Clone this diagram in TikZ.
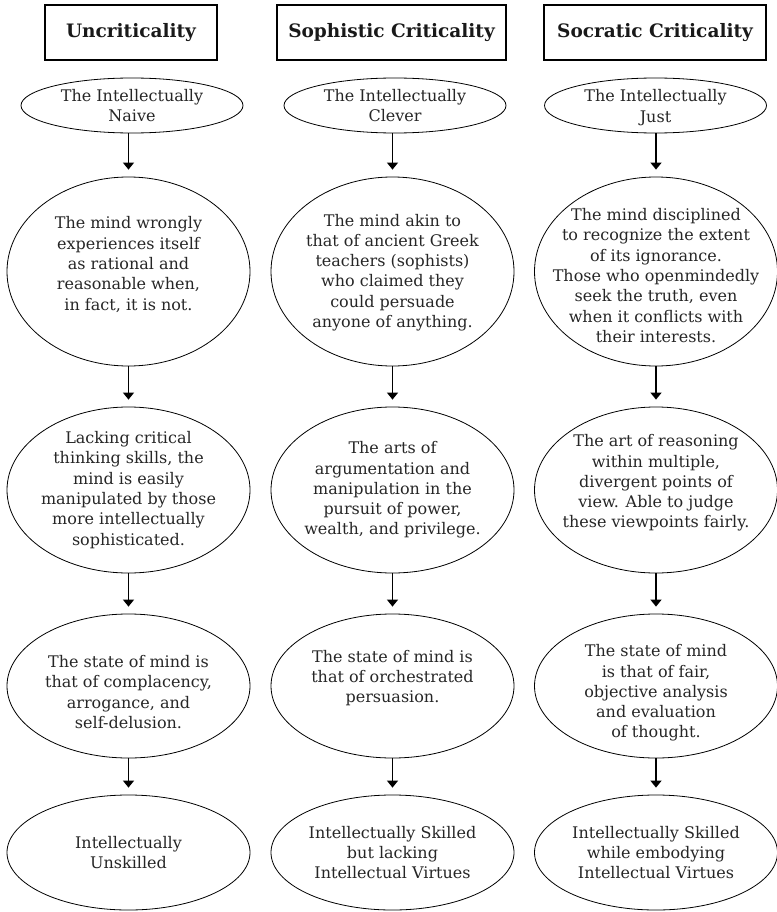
\documentclass[tikz,border=0pt]{standalone}
\usepackage{fontspec}
\setmainfont{DejaVu Serif}
\usetikzlibrary{shapes.geometric,arrows.meta}
\begin{document}
\begin{tikzpicture}[x=1pt,y=-1pt,
  hdr/.style={draw,line width=1.3pt,minimum height=55pt,inner sep=0pt,font=\bfseries\fontsize{18.5}{22}\selectfont,text=black!90},
  ell/.style={draw,ellipse,line width=0.8pt,inner sep=0pt},
  small/.style={ell,minimum width=222pt,minimum height=55pt},
  big/.style={ell,minimum width=243pt},
  txt/.style={align=center,inner sep=0pt,font=\fontsize{16}{20.3}\selectfont,text=black!85},
  flow/.style={-{Triangle[width=11pt,length=7pt]},line width=1.4pt,shorten >=7pt}]
\useasboundingbox (0,0) rectangle (776,912);
% headers
\node[hdr,minimum width=172pt] (h1) at (131,32.5) {Uncriticality};
\node[hdr,minimum width=229pt] (h2) at (391.5,32.5) {Sophistic Criticality};
\node[hdr,minimum width=222pt] (h3) at (655,32.5) {Socratic Criticality};
% row 1
\node[small] (e11) at (132,105.5) {};
\node[small] (e21) at (395,105.5) {};
\node[small] (e31) at (655.5,105.5) {};
\node[txt] (t11) at (e11) {The Intellectually\\Naive};
\node[txt] (t21) at (e21) {The Intellectually\\Clever};
\node[txt] (t31) at ([yshift=-2pt]e31) {The Intellectually\\Just};
% row 2
\node[big,minimum height=189pt] (e12) at (128.5,271.5) {};
\node[big,minimum height=189pt] (e22) at (392.5,271.5) {};
\node[big,minimum height=189pt] (e32) at (656,271.5) {};
\node[txt] (t12) at ([yshift=7pt]e12) {The mind wrongly\\experiences itself\\as rational and\\reasonable when,\\in fact, it is not.};
\node[txt] (t22) at ([yshift=-1pt]e22) {The mind akin to\\that of ancient Greek\\teachers (sophists)\\who claimed they\\could persuade\\anyone of anything.};
\node[txt] (t32) at ([yshift=-4pt]e32) {The mind disciplined\\to recognize the extent\\of its ignorance.\\Those who openmindedly\\seek the truth, even\\when it conflicts with\\their interests.};
% row 3
\node[big,minimum height=166pt] (e13) at (128.5,490) {};
\node[big,minimum height=166pt] (e23) at (392.5,490) {};
\node[big,minimum height=166pt] (e33) at (656,490) {};
\node[txt] (t13) at (e13) {Lacking critical\\thinking skills, the\\mind is easily\\manipulated by those\\more intellectually\\sophisticated.};
\node[txt] (t23) at (e23) {The arts of\\argumentation and\\manipulation in the\\pursuit of power,\\wealth, and privilege.};
\node[txt] (t33) at ([yshift=7pt]e33) {The art of reasoning\\within multiple,\\divergent points of\\view. Able to judge\\these viewpoints fairly.};
% row 4
\node[big,minimum height=144pt] (e14) at (128.5,686) {};
\node[big,minimum height=144pt] (e24) at (392.5,686) {};
\node[big,minimum height=144pt] (e34) at (656,686) {};
\node[txt] (t14) at ([yshift=-6pt]e14) {The state of mind is\\that of complacency,\\arrogance, and\\self-delusion.};
\node[txt] (t24) at ([yshift=8pt]e24) {The state of mind is\\that of orchestrated\\persuasion.};
\node[txt] (t34) at ([yshift=-7pt]e34) {The state of mind\\is that of fair,\\objective analysis\\and evaluation\\of thought.};
% row 5
\node[big,minimum height=115pt] (e15) at (128.5,852.5) {};
\node[big,minimum height=115pt] (e25) at (392.5,852.5) {};
\node[big,minimum height=115pt] (e35) at (656,852.5) {};
\node[txt] (t15) at (e15) {Intellectually\\Unskilled};
\node[txt] (t25) at (e25) {Intellectually Skilled\\but lacking\\Intellectual Virtues};
\node[txt] (t35) at (e35) {Intellectually Skilled\\while embodying\\Intellectual Virtues};
% arrows
\foreach \c in {1,2,3}{
  \draw[flow] (e\c1.south -| e\c2.north) -- (e\c2.north);
  \draw[flow] (e\c2.south) -- (e\c3.north);
  \draw[flow] (e\c3.south) -- (e\c4.north);
  \draw[flow] (e\c4.south) -- (e\c5.north);
}
\end{tikzpicture}
\end{document}
